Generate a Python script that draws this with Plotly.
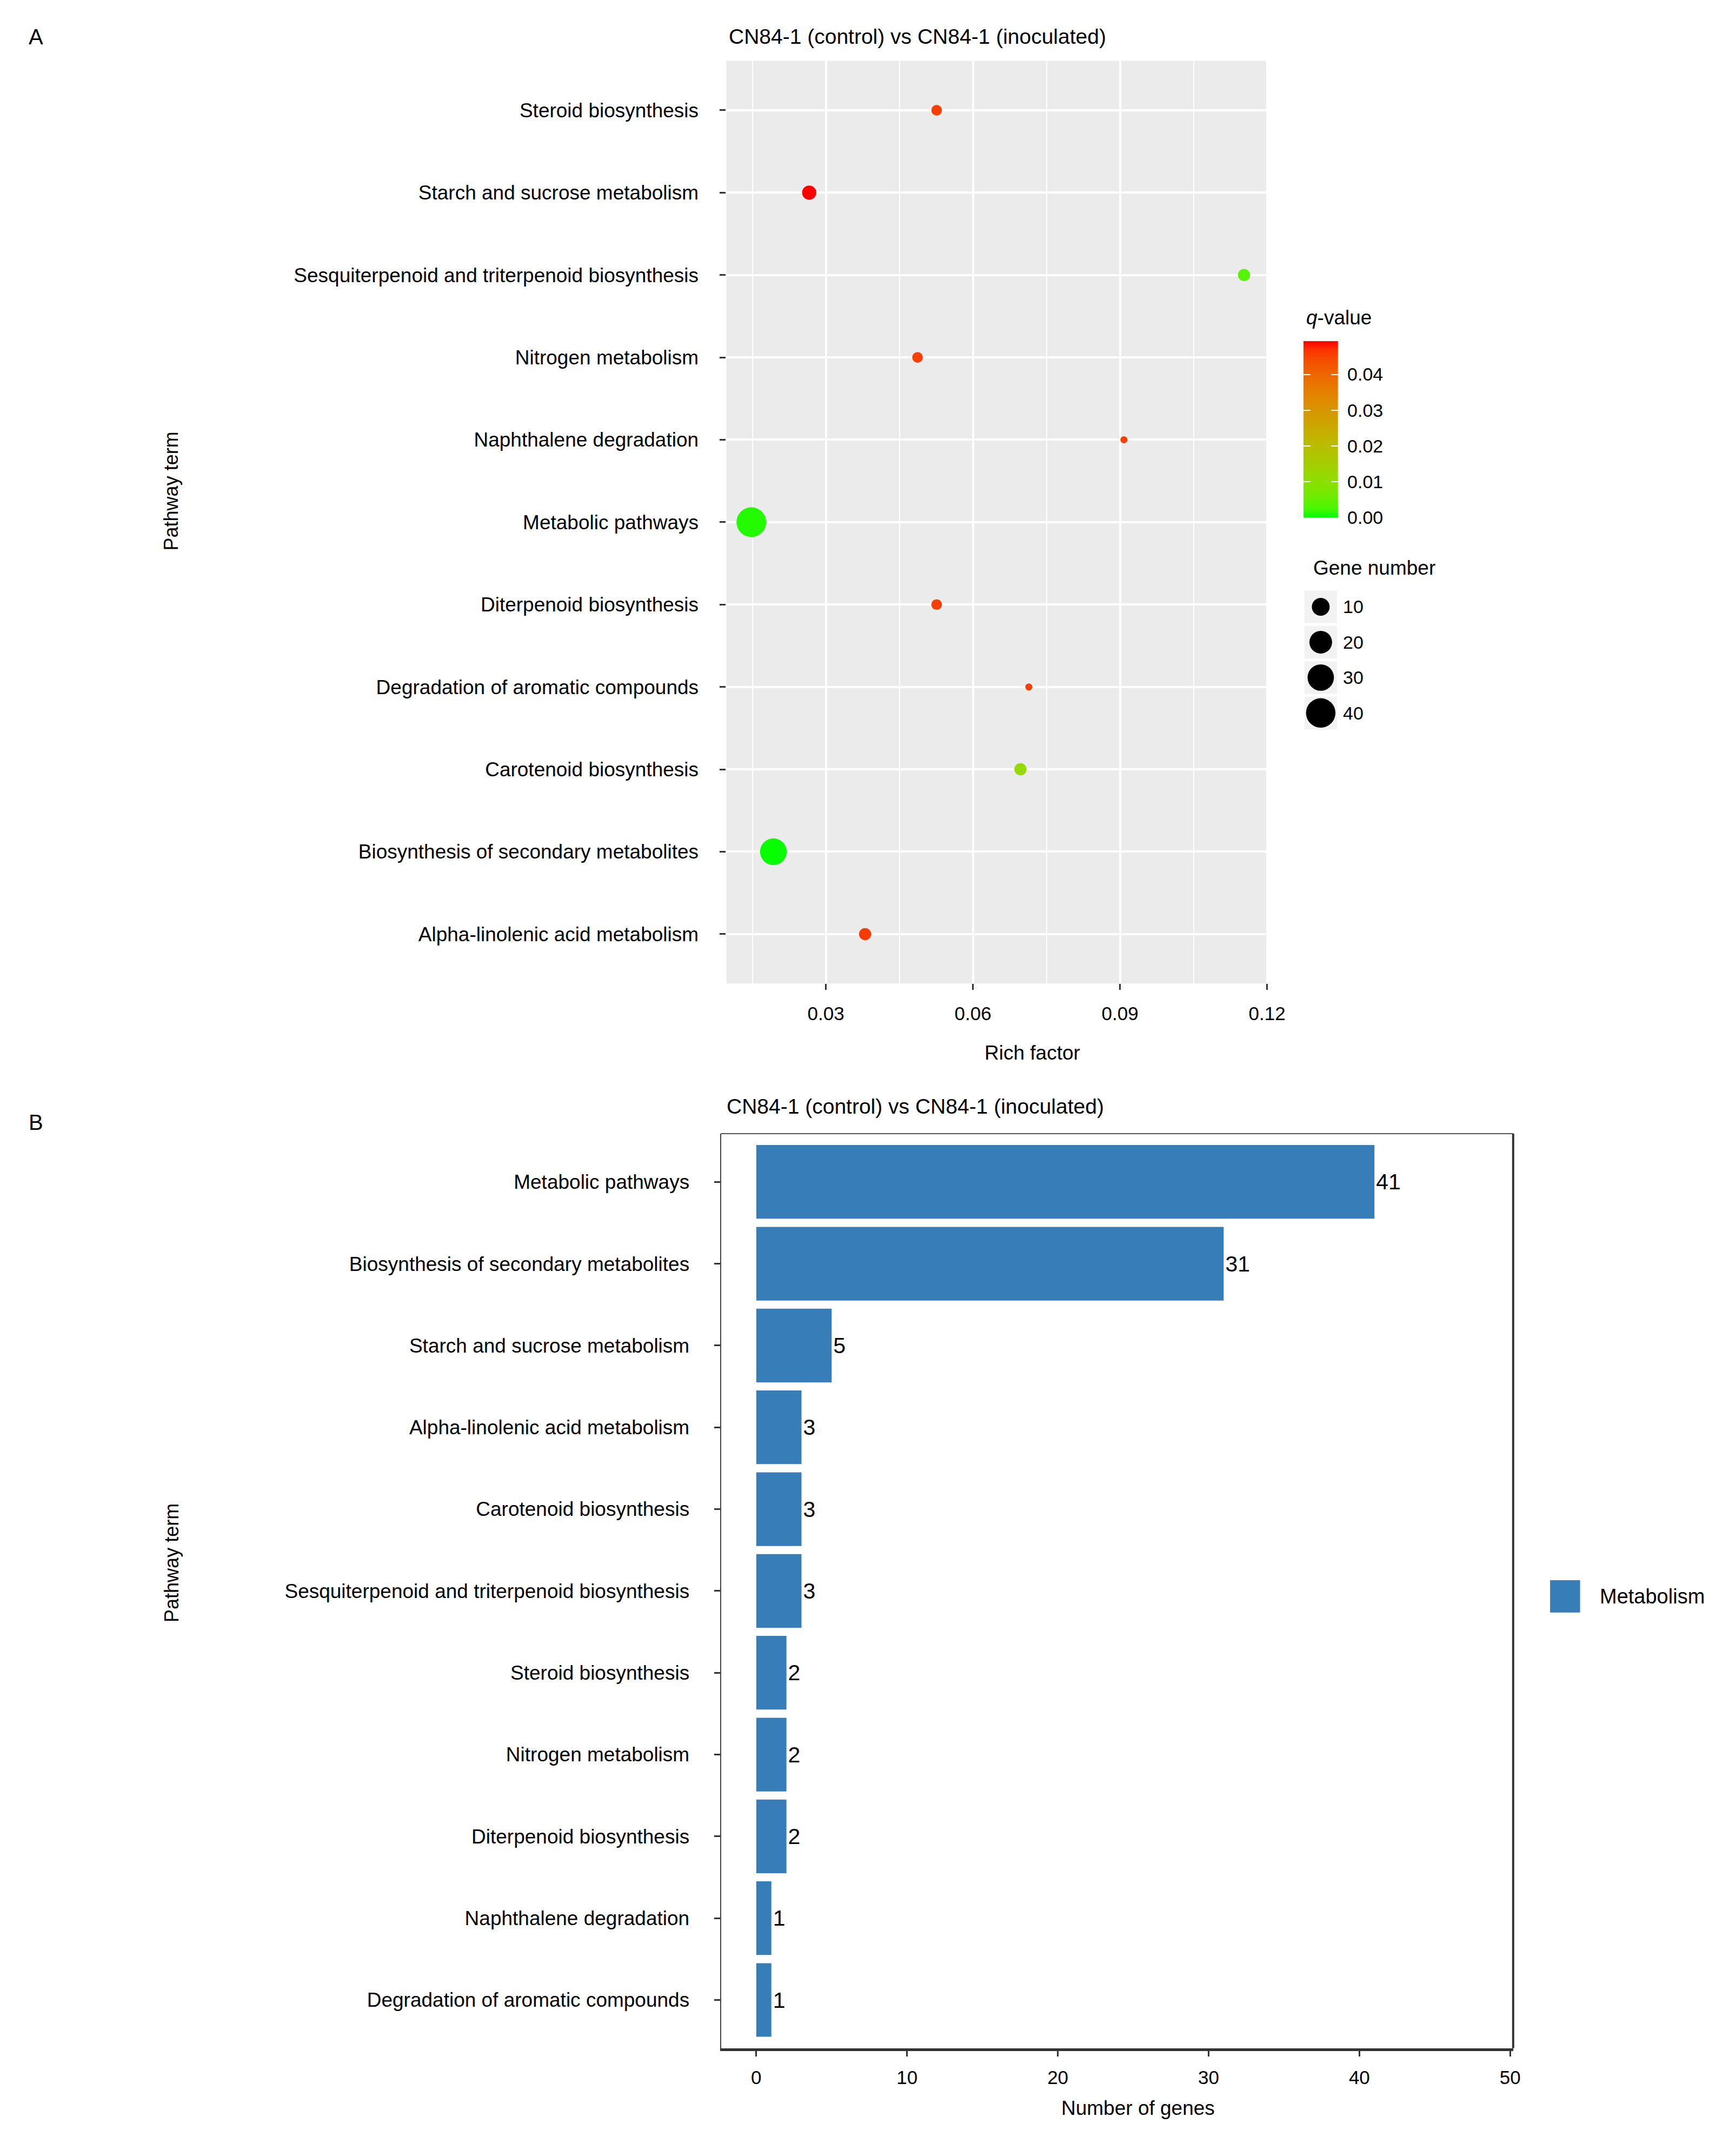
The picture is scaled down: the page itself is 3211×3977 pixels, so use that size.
import numpy as np
import plotly.graph_objects as go

W, H = 3211, 3977
FONT = "Liberation Sans, Arial, sans-serif"

# panel A - bubble chart (top to bottom order as drawn)
terms_a = [
    "Steroid biosynthesis",
    "Starch and sucrose metabolism",
    "Sesquiterpenoid and triterpenoid biosynthesis",
    "Nitrogen metabolism",
    "Naphthalene degradation",
    "Metabolic pathways",
    "Diterpenoid biosynthesis",
    "Degradation of aromatic compounds",
    "Carotenoid biosynthesis",
    "Biosynthesis of secondary metabolites",
    "Alpha-linolenic acid metabolism",
]
rich_factor = [0.0526, 0.0266, 0.1153, 0.0487, 0.0908, 0.0148, 0.0526, 0.0714, 0.0697, 0.0193, 0.0380]
q_value = [0.0455, 0.0493, 0.0035, 0.0455, 0.0455, 0.0012, 0.0455, 0.0455, 0.0118, 0.0002, 0.0460]
gene_num_a = [2, 5, 3, 2, 1, 41, 2, 1, 3, 31, 3]

rich_ticks = [0.03, 0.06, 0.09, 0.12]
q_ticks = [0.00, 0.01, 0.02, 0.03, 0.04]
size_legend = [10, 20, 30, 40]

# panel B - bar chart (top to bottom order as drawn)
terms_b = [
    "Metabolic pathways",
    "Biosynthesis of secondary metabolites",
    "Starch and sucrose metabolism",
    "Alpha-linolenic acid metabolism",
    "Carotenoid biosynthesis",
    "Sesquiterpenoid and triterpenoid biosynthesis",
    "Steroid biosynthesis",
    "Nitrogen metabolism",
    "Diterpenoid biosynthesis",
    "Naphthalene degradation",
    "Degradation of aromatic compounds",
]
genes_b = [41, 31, 5, 3, 3, 3, 2, 2, 2, 1, 1]
genes_ticks = [0, 10, 20, 30, 40, 50]

Q_MIN, Q_MAX = 0.0, 0.0493


def px_x(x):
    return x / W


def px_y(y):
    return 1 - y / H


# ggplot-like area scale for point size
D_MIN, D_MAX = 13, 55
n_lo, n_hi = min(gene_num_a), max(gene_num_a)


def size_of(vals):
    v = np.asarray(vals, dtype=float)
    return D_MIN + (D_MAX - D_MIN) * np.sqrt((v - n_lo) / (n_hi - n_lo))


# green -> red gradient interpolated in Lab space (like scale_colour_gradient)
XN, YN, ZN = 0.95047, 1.0, 1.08883


def hex_to_lab(h):
    rgb = [int(h[i:i + 2], 16) / 255 for i in (1, 3, 5)]
    lin = [c / 12.92 if c <= 0.04045 else ((c + 0.055) / 1.055) ** 2.4 for c in rgb]
    X = 0.4124 * lin[0] + 0.3576 * lin[1] + 0.1805 * lin[2]
    Y = 0.2126 * lin[0] + 0.7152 * lin[1] + 0.0722 * lin[2]
    Z = 0.0193 * lin[0] + 0.1192 * lin[1] + 0.9505 * lin[2]
    f = lambda t: t ** (1 / 3) if t > (6 / 29) ** 3 else t / (3 * (6 / 29) ** 2) + 4 / 29
    fx, fy, fz = f(X / XN), f(Y / YN), f(Z / ZN)
    return 116 * fy - 16, 500 * (fx - fy), 200 * (fy - fz)


def lab_to_rgb(L, a, b):
    fy = (L + 16) / 116
    fx = fy + a / 500
    fz = fy - b / 200
    finv = lambda t: t ** 3 if t > 6 / 29 else 3 * (6 / 29) ** 2 * (t - 4 / 29)
    X, Y, Z = XN * finv(fx), YN * finv(fy), ZN * finv(fz)
    lin = [3.2406 * X - 1.5372 * Y - 0.4986 * Z,
           -0.9689 * X + 1.8758 * Y + 0.0415 * Z,
           0.0557 * X - 0.2040 * Y + 1.0570 * Z]
    out = []
    for c in lin:
        c = 12.92 * c if c <= 0.0031308 else 1.055 * max(c, 0) ** (1 / 2.4) - 0.055
        out.append(int(round(min(max(c, 0), 1) * 255)))
    return "rgb(%d,%d,%d)" % tuple(out)


lab_lo, lab_hi = hex_to_lab("#00FF00"), hex_to_lab("#FF0000")
colorscale = []
for t in np.linspace(0, 1, 21):
    lab = [lo + (hi - lo) * t for lo, hi in zip(lab_lo, lab_hi)]
    colorscale.append([float(t), lab_to_rgb(*lab)])

fig = go.Figure()

fig.add_trace(go.Scatter(
    x=rich_factor, y=terms_a, mode="markers", xaxis="x", yaxis="y",
    showlegend=False, hoverinfo="skip",
    marker=dict(size=size_of(gene_num_a), color=q_value, colorscale=colorscale,
                cmin=Q_MIN, cmax=Q_MAX, line=dict(width=0), opacity=1,
                showscale=False),
))

# colour key drawn as a thin heatmap on its own axis (ticks on both edges)
cbar_vals = np.linspace(Q_MIN, Q_MAX, 120)
fig.add_trace(go.Heatmap(
    x=[0], y=cbar_vals, z=[[v] for v in cbar_vals], xaxis="x4", yaxis="y4",
    colorscale=colorscale, zmin=Q_MIN, zmax=Q_MAX, showscale=False,
    hoverinfo="skip",
))

# size legend drawn as its own small axis
fig.add_trace(go.Scatter(
    x=[0] * len(size_legend), y=[str(v) for v in size_legend], mode="markers",
    xaxis="x3", yaxis="y3", showlegend=False, hoverinfo="skip",
    marker=dict(size=size_of(size_legend), color="black", opacity=1,
                line=dict(width=0)),
))

fig.add_trace(go.Bar(
    x=genes_b, y=terms_b, orientation="h", xaxis="x2", yaxis="y2",
    marker=dict(color="#377EB8", line=dict(width=0)), width=0.9,
    text=genes_b, textposition="outside", cliponaxis=False,
    textfont=dict(family=FONT, size=41, color="black"),
    showlegend=False, hoverinfo="skip",
))

axis_font = dict(family=FONT, size=37, color="black")
num_font = dict(family=FONT, size=35, color="black")

fig.update_layout(
    width=W, height=H,
    margin=dict(l=0, r=0, t=0, b=0),
    paper_bgcolor="white", plot_bgcolor="white",
    font=dict(family=FONT, color="black"),
    xaxis=dict(
        domain=[px_x(1357), px_x(2369)], anchor="y", range=[0.0097, 0.1202],
        tickvals=rich_ticks, ticktext=["%.2f" % v for v in rich_ticks],
        showgrid=True, gridcolor="white", gridwidth=4, zeroline=False,
        minor=dict(tickvals=[0.015, 0.045, 0.075, 0.105], showgrid=True,
                   gridcolor="white", gridwidth=2, ticks=""),
        ticks="outside", ticklen=11, tickwidth=3, tickcolor="#333333",
        tickfont=num_font, ticklabelstandoff=14,
    ),
    yaxis=dict(
        domain=[px_y(1828), px_y(113)], anchor="x", type="category",
        categoryorder="array", categoryarray=terms_a[::-1], range=[-0.6, 10.6],
        showgrid=True, gridcolor="white", gridwidth=4, zeroline=False,
        ticks="outside", ticklen=11, tickwidth=3, tickcolor="#333333",
        tickfont=axis_font, ticklabelstandoff=32,
    ),
    xaxis2=dict(
        domain=[px_x(1347), px_x(2827)], anchor="y2", range=[-2.34, 50.2],
        tickvals=genes_ticks, showgrid=False, zeroline=False,
        showline=True, linecolor="#333333", linewidth=5,
        ticks="outside", ticklen=10, tickwidth=3, tickcolor="#333333",
        tickfont=num_font, ticklabelstandoff=9,
    ),
    yaxis2=dict(
        domain=[px_y(3807), px_y(2107)], anchor="x2", type="category",
        categoryorder="array", categoryarray=terms_b[::-1], range=[-0.59, 10.59],
        showgrid=False, zeroline=False,
        showline=True, linecolor="#444444", linewidth=2,
        ticks="outside", ticklen=11, tickwidth=3, tickcolor="#333333",
        tickfont=axis_font, ticklabelstandoff=38,
    ),
    xaxis3=dict(
        domain=[px_x(2437), px_x(2498)], anchor="y3", range=[-0.5, 0.5],
        showgrid=False, zeroline=False, showticklabels=False, ticks="",
    ),
    yaxis3=dict(
        domain=[px_y(1358), px_y(1095)], anchor="x3", type="category",
        categoryorder="array", categoryarray=[str(v) for v in size_legend],
        range=[len(size_legend) - 0.5, -0.5], side="right",
        showgrid=False, zeroline=False, ticks="",
        tickfont=dict(family=FONT, size=34, color="black"), ticklabelstandoff=10,
    ),
    xaxis4=dict(
        domain=[px_x(2435), px_x(2500)], anchor="y4", range=[-0.5, 0.5],
        showgrid=False, zeroline=False, showticklabels=False, ticks="",
    ),
    yaxis4=dict(
        domain=[px_y(962), px_y(634)], anchor="x4", range=[Q_MIN, Q_MAX],
        side="right", showgrid=False, zeroline=False, showline=False,
        tickvals=q_ticks, ticktext=["%.2f" % v for v in q_ticks],
        ticks="inside", mirror="ticks", ticklen=13, tickwidth=2, tickcolor="white",
        tickfont=dict(family=FONT, size=34, color="black"), ticklabelstandoff=16,
    ),
)

shapes = [
    dict(type="rect", xref="x domain", yref="y domain", x0=0, x1=1, y0=0, y1=1,
         fillcolor="#EBEBEB", line=dict(width=0), layer="below"),
    # panel B frame: thin top, heavier right edge (bottom is the x axis line)
    dict(type="line", xref="x2 domain", yref="y2 domain", x0=0, x1=1, y0=1, y1=1,
         line=dict(color="#555555", width=2)),
    dict(type="line", xref="x2 domain", yref="y2 domain", x0=1, x1=1, y0=0, y1=1,
         line=dict(color="#333333", width=4)),
    dict(type="rect", xref="paper", yref="paper",
         x0=px_x(2896), x1=px_x(2952), y0=px_y(2997), y1=px_y(2937),
         fillcolor="#377EB8", line=dict(width=0)),
]
for i in range(len(size_legend)):
    shapes.append(dict(type="rect", xref="x3", yref="y3", x0=-0.5, x1=0.5,
                       y0=i - 0.46, y1=i + 0.46, fillcolor="#F2F2F2",
                       line=dict(width=0), layer="below"))
fig.update_layout(shapes=shapes)


def note(text, x, y, size, xanchor="left", angle=0):
    fig.add_annotation(text=text, x=px_x(x), y=px_y(y), xref="paper", yref="paper",
                       xanchor=xanchor, yanchor="middle", showarrow=False,
                       textangle=angle, font=dict(family=FONT, size=size, color="black"))


title = "CN84-1 (control) vs CN84-1 (inoculated)"
note("A", 52, 68, 40)
note("B", 52, 2086, 40)
note(title, 1360, 68, 39)
note(title, 1356, 2056, 39)
note("Pathway term", 320, 913, 36, xanchor="center", angle=-90)
note("Pathway term", 320, 2905, 36, xanchor="center", angle=-90)
note("Rich factor", 1929, 1957, 37, xanchor="center")
note("Number of genes", 2126, 3918, 37, xanchor="center")
note("<i>q</i>-value", 2438, 590, 37)
note("Gene number", 2451, 1056, 37)
note("Metabolism", 2987, 2967, 38)

# page tweaks: no default body margin, no scrollbars, no modebar
page_js = ("document.body.style.margin = '0';"
           "document.body.style.overflow = 'hidden';"
           "document.documentElement.style.overflow = 'hidden';")
fig.write_html("out.html", config={"displayModeBar": False}, post_script=page_js)
